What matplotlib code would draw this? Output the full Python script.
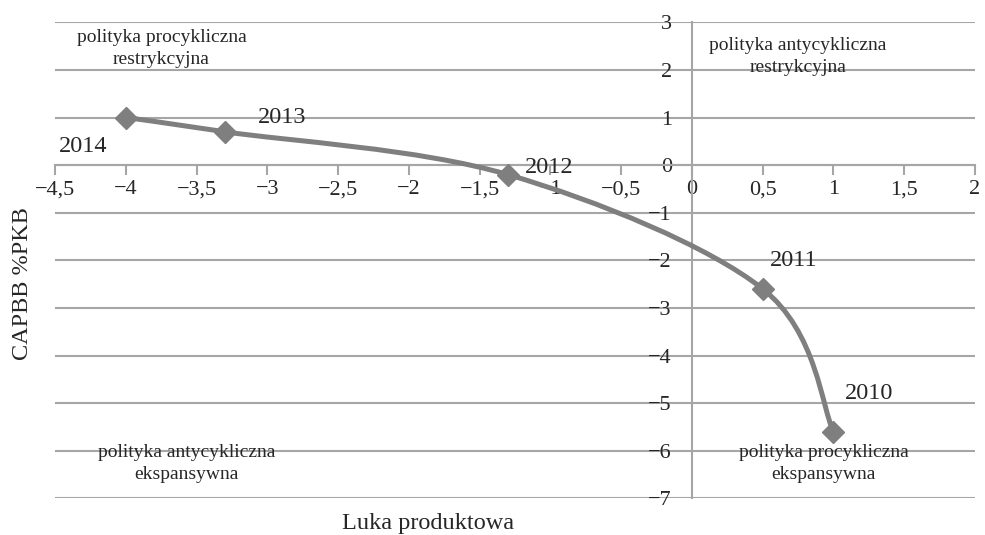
import numpy as np
import matplotlib
matplotlib.use("Agg")
import matplotlib.pyplot as plt
from matplotlib.path import Path
from matplotlib.patches import PathPatch
from matplotlib.ticker import FuncFormatter, MultipleLocator

plt.rcParams['font.family'] = ['Liberation Serif', 'DejaVu Serif']
plt.rcParams['axes.unicode_minus'] = True

# data
years = ['2010', '2011', '2012', '2013', '2014']
output_gap = [1.0, 0.5, -1.3, -3.3, -4.0]
capbb = [-5.6, -2.6, -0.2, 0.7, 1.0]

# label positions (data coords) for the year annotations
label_x = [1.25, 0.72, -1.01, -2.90, -4.30]
label_y = [-4.79, -2.0, -0.06, 0.99, 0.40]

quadrant_texts = [
    'polityka procykliczna\nrestrykcyjna',
    'polityka antycykliczna\nrestrykcyjna',
    'polityka antycykliczna\nekspansywna',
    'polityka procykliczna\nekspansywna',
]
quadrant_x = [-3.75, 0.75, -3.57, 0.93]
quadrant_y = [2.45, 2.28, -6.27, -6.27]

line_color = '#7f7f7f'
grid_color = '#a6a6a6'
text_color = '#262626'


def smooth_path(xs, ys):
    # Excel-like smoothed line: cubic bezier segments, catmull-rom control points
    pts = np.column_stack([xs, ys])
    n = len(pts)
    verts = [tuple(pts[0])]
    codes = [Path.MOVETO]
    for i in range(n - 1):
        p_prev = pts[i - 1] if i > 0 else pts[i]
        p_next2 = pts[i + 2] if i + 2 < n else pts[i + 1]
        c1 = pts[i] + (pts[i + 1] - p_prev) / 6.0
        c2 = pts[i + 1] - (p_next2 - pts[i]) / 6.0
        verts += [tuple(c1), tuple(c2), tuple(pts[i + 1])]
        codes += [Path.CURVE4] * 3
    return Path(verts, codes)


fig = plt.figure(figsize=(9.85, 5.35), dpi=100)
ax = fig.add_axes([0.0561, 0.0686, 0.9337, 0.8897])

ax.set_xlim(-4.5, 2)
ax.set_ylim(-7, 3)

ax.spines['left'].set_position(('data', 0))
ax.spines['bottom'].set_position(('data', 0))
ax.spines['top'].set_visible(False)
ax.spines['right'].set_visible(False)
for s in ('left', 'bottom'):
    ax.spines[s].set_color(grid_color)
    ax.spines[s].set_linewidth(1.5)

ax.xaxis.set_major_locator(MultipleLocator(0.5))
ax.yaxis.set_major_locator(MultipleLocator(1))


def fmt(v, pos):
    s = f'{v:g}'.replace('.', ',')
    return s.replace('-', '\u2212')


ax.xaxis.set_major_formatter(FuncFormatter(fmt))
ax.yaxis.set_major_formatter(FuncFormatter(fmt))
ax.tick_params(axis='x', direction='out', length=7, width=1.5, color=grid_color,
               labelsize=16, labelcolor=text_color, pad=4)
ax.tick_params(axis='y', length=0, labelsize=16, labelcolor=text_color, pad=14.5)

ax.yaxis.grid(True, color=grid_color, linewidth=1.5)
ax.set_axisbelow(True)

patch = PathPatch(smooth_path(output_gap, capbb), facecolor='none',
                  edgecolor=line_color, linewidth=3.6, zorder=3)
ax.add_patch(patch)
ax.plot(output_gap, capbb, linestyle='none', marker='D', markersize=11,
        color=line_color, zorder=4)

for yr, lx, ly in zip(years, label_x, label_y):
    ax.text(lx, ly, yr, fontsize=17.5, color=text_color, ha='center', va='center', zorder=5)

for txt, qx, qy in zip(quadrant_texts, quadrant_x, quadrant_y):
    ax.text(qx, qy, txt, fontsize=14, color=text_color, ha='center', va='center',
            linespacing=1.35, zorder=5)

fig.text(0.4345, 0.022, 'Luka produktowa', fontsize=17.5, color=text_color,
         ha='center', va='center')
fig.text(0.023, 0.47, 'CAPBB %PKB', fontsize=17.5, color=text_color,
         ha='center', va='center', rotation=90)

fig.savefig('out.png', dpi=100)
